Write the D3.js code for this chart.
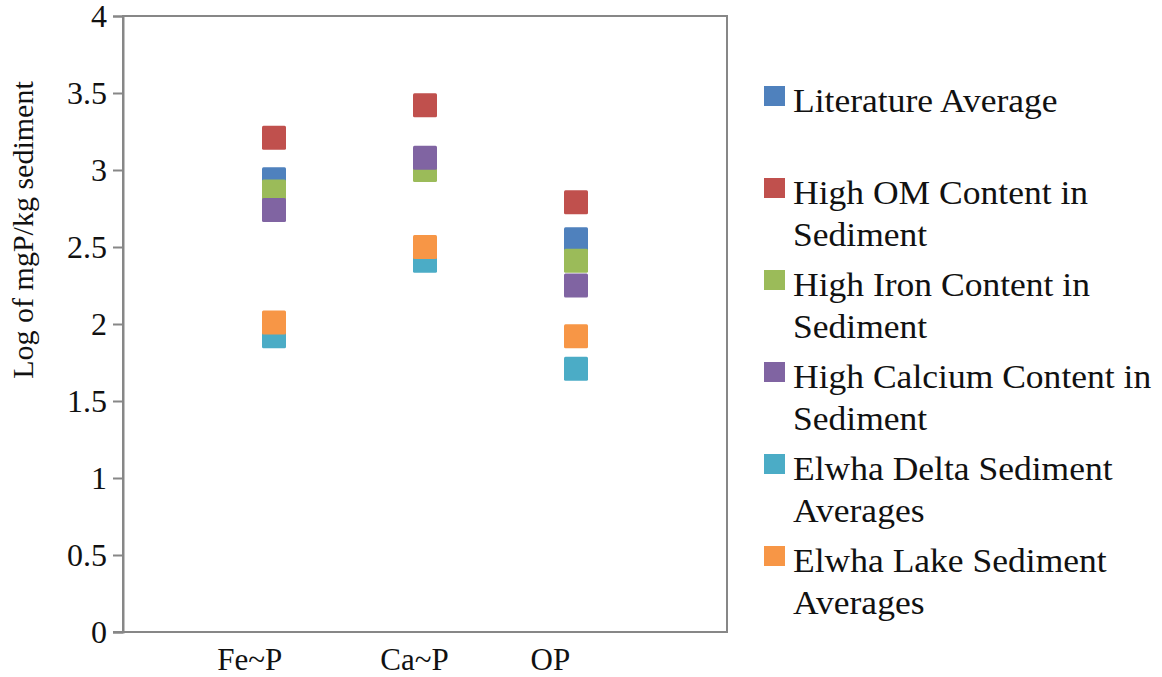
<!DOCTYPE html>
<html>
<head>
<meta charset="utf-8">
<script src="https://cdn.jsdelivr.net/npm/d3@7"></script>
<style>
  html, body { margin: 0; padding: 0; background: #fff; }
  svg { display: block; }
  text { font-family: "Liberation Serif", "Times New Roman", serif; fill: #111; }
</style>
</head>
<body>
<svg id="chart" width="1162" height="677"></svg>
<script>
// ---- Data ----
const categories = ["Fe~P", "Ca~P", "OP"];
const categoryPositions = [1, 2, 3];
const categoryLabelPositions = [0.84, 1.93, 2.83];
const seriesNames = [
  "Literature Average",
  "High OM Content in Sediment",
  "High Iron Content in Sediment",
  "High Calcium Content in Sediment",
  "Elwha Delta Sediment Averages",
  "Elwha Lake Sediment Averages"
];
const legendLines = [
  ["Literature Average"],
  ["High OM Content in", "Sediment"],
  ["High Iron Content in", "Sediment"],
  ["High Calcium Content in", "Sediment"],
  ["Elwha Delta Sediment", "Averages"],
  ["Elwha Lake Sediment", "Averages"]
];
const literatureAverage = [2.94, 3.04, 2.55];
const highOM = [3.21, 3.42, 2.79];
const highIron = [2.86, 3.00, 2.41];
const highCalcium = [2.74, 3.08, 2.25];
const elwhaDelta = [1.92, 2.41, 1.71];
const elwhaLake = [2.01, 2.50, 1.92];
const seriesValues = [literatureAverage, highOM, highIron, highCalcium, elwhaDelta, elwhaLake];
const seriesColors = ["#4F81BD", "#C0504D", "#9BBB59", "#8064A2", "#4BACC6", "#F79646"];
const yTicks = [0, 0.5, 1, 1.5, 2, 2.5, 3, 3.5, 4];

// ---- Layout ----
const svg = d3.select("#chart");
const plot = { left: 123, right: 727, top: 16, bottom: 632 };
const x = d3.scaleLinear().domain([0, 4]).range([plot.left, plot.right]);
const y = d3.scaleLinear().domain([0, 4]).range([plot.bottom, plot.top]);
const axisColor = "#878787";

// plot border
svg.append("rect")
  .attr("x", plot.left).attr("y", plot.top)
  .attr("width", plot.right - plot.left).attr("height", plot.bottom - plot.top)
  .attr("fill", "none").attr("stroke", axisColor).attr("stroke-width", 2);

// y axis
const yAxis = d3.axisLeft(y).tickValues(yTicks).tickSize(10).tickPadding(6)
  .tickFormat(d => d3.format("")(d));
const yg = svg.append("g").attr("transform", `translate(${plot.left},0)`).call(yAxis);
yg.select(".domain").attr("stroke", axisColor).attr("stroke-width", 2);
yg.selectAll(".tick line").attr("stroke", axisColor).attr("stroke-width", 2);
yg.selectAll(".tick text")
  .attr("font-family", "Liberation Serif, Times New Roman, serif")
  .attr("font-size", 32).attr("fill", "#111");

// x axis line (bottom) extended slightly left
svg.append("line")
  .attr("x1", plot.left - 10).attr("x2", plot.right)
  .attr("y1", plot.bottom).attr("y2", plot.bottom)
  .attr("stroke", axisColor).attr("stroke-width", 2);

// category labels
svg.append("g").selectAll("text").data(categories).join("text")
  .attr("x", (d, i) => x(categoryLabelPositions[i]))
  .attr("y", 670)
  .attr("text-anchor", "middle")
  .attr("font-size", 31)
  .text(d => d);

// y title
svg.append("text")
  .attr("transform", `translate(33,230) rotate(-90)`)
  .attr("text-anchor", "middle")
  .attr("font-size", 30)
  .text("Log of mgP/kg sediment");

// markers
const ms = 24;
seriesValues.forEach((vals, s) => {
  svg.append("g").selectAll("rect").data(vals).join("rect")
    .attr("x", (d, i) => x(categoryPositions[i]) - ms / 2)
    .attr("y", d => y(d) - ms / 2)
    .attr("width", ms).attr("height", ms)
    .attr("rx", 1.5)
    .attr("fill", seriesColors[s]);
});

// legend
const legendTop = 112, entryGap = 92, lineGap = 42;
const lg = svg.append("g");
legendLines.forEach((lines, i) => {
  const base = legendTop + i * entryGap;
  lg.append("rect")
    .attr("x", 764).attr("y", base - 26)
    .attr("width", 21).attr("height", 20)
    .attr("fill", seriesColors[i]);
  lines.forEach((ln, j) => {
    lg.append("text")
      .attr("transform", `translate(793,${base + j * lineGap}) scale(1.045,1)`)
      .attr("font-size", 34)
      .text(ln);
  });
});
</script>
</body>
</html>
